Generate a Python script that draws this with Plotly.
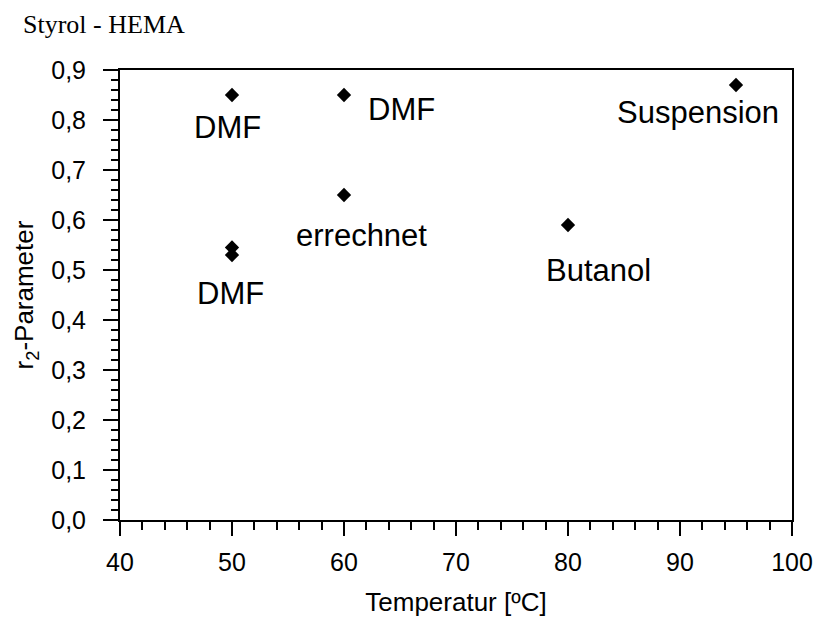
import plotly.graph_objects as go

temps = [50, 60, 95, 60, 80, 50, 50]
r2 = [0.85, 0.85, 0.87, 0.65, 0.59, 0.545, 0.53]

label_texts = ["DMF", "DMF", "Suspension", "errechnet", "Butanol", "DMF"]
label_x = [49.6, 65.1, 91.6, 61.6, 82.7, 49.9]
label_y = [0.785, 0.822, 0.8146, 0.570, 0.499, 0.453]

FONT = "Liberation Sans, Arial"

fig = go.Figure()
fig.add_trace(go.Scatter(x=temps, y=r2, mode="markers",
                         marker=dict(symbol="diamond", size=11, color="black"),
                         showlegend=False))

for t, x, y in zip(label_texts, label_x, label_y):
    fig.add_annotation(x=x, y=y, text=t, showarrow=False,
                       font=dict(family=FONT, size=31, color="black"),
                       xanchor="center", yanchor="middle")

fig.add_annotation(xref="paper", yref="paper", x=-0.147, y=1.102, text="Styrol - HEMA",
                   showarrow=False, xanchor="left", yanchor="middle",
                   font=dict(family="Liberation Serif, Times New Roman", size=26, color="black"))

axis_common = dict(showline=True, linecolor="black", linewidth=2, mirror=True,
                   showgrid=False, zeroline=False, ticks="outside", tickcolor="black",
                   tickwidth=2,
                   tickfont=dict(family=FONT, size=25, color="black"))

fig.update_xaxes(range=[40, 100], dtick=10, ticklen=14, ticklabelstandoff=5,
                 minor=dict(ticks="outside", dtick=2, ticklen=8, tickcolor="black", tickwidth=2),
                 title=dict(text="Temperatur [ºC]", standoff=18,
                            font=dict(family=FONT, size=26, color="black")),
                 **axis_common)
fig.update_yaxes(range=[0, 0.9], dtick=0.1, tickformat=".1f", ticklen=15, ticklabelstandoff=12,
                 minor=dict(ticks="outside", dtick=0.02, ticklen=7, tickcolor="black", tickwidth=2),
                 title=dict(text="r<sub>2</sub>-Parameter", standoff=10,
                            font=dict(family=FONT, size=26, color="black")),
                 **axis_common)

fig.update_layout(width=825, height=624, margin=dict(l=120, r=25, t=70, b=101),
                  plot_bgcolor="white", paper_bgcolor="white", separators=", ")

fig.write_html("out.html")
